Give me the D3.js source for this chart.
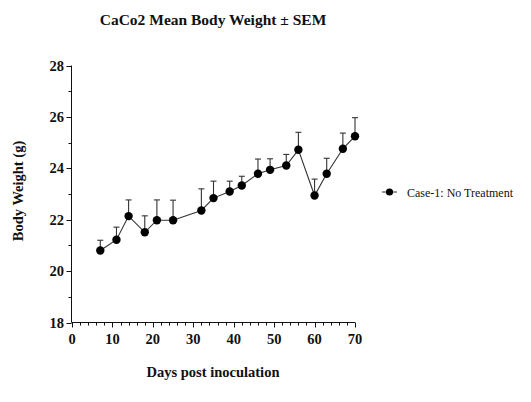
<!DOCTYPE html>
<html><head><meta charset="utf-8">
<script src="https://cdn.jsdelivr.net/npm/d3@7"></script>
<style>body{margin:0;background:#fff}svg{display:block}text{font-family:"Liberation Serif","Times New Roman",serif}</style>
</head><body>
<svg id="c" width="531" height="402"></svg>
<script>
const days = [7, 11, 14, 18, 21, 25, 32, 35, 39, 42, 46, 49, 53, 56, 60, 63, 67, 70];
const meanWeight = [20.80, 21.22, 22.14, 21.51, 21.98, 21.98, 22.36, 22.84, 23.10, 23.33, 23.79, 23.94, 24.11, 24.72, 22.94, 23.79, 24.76, 25.25];
const semWeight = [0.40, 0.49, 0.63, 0.64, 0.79, 0.78, 0.84, 0.66, 0.40, 0.36, 0.57, 0.43, 0.43, 0.68, 0.64, 0.60, 0.61, 0.72];
const xTicks = [0, 10, 20, 30, 40, 50, 60, 70];
const yTicks = [18, 20, 22, 24, 26, 28];
const seriesName = "Case-1: No Treatment";
const title = "CaCo2 Mean Body Weight \u00b1 SEM";
const xLabel = "Days post inoculation";
const yLabel = "Body Weight (g)";

const svg = d3.select("#c");
const x = d3.scaleLinear().domain([0, 70]).range([72, 355]);
const y = d3.scaleLinear().domain([18, 28]).range([322.5, 65.5]);
const ink = "#111";

// title
svg.append("text").attr("x", 213).attr("y", 25).attr("text-anchor", "middle")
  .attr("font-size", 15.5).attr("font-weight", "bold").attr("fill", ink).text(title);

// y axis
const ga = svg.append("g");
ga.append("line").attr("x1", 71.5).attr("x2", 71.5).attr("y1", y(28)).attr("y2", y(18)).attr("stroke", ink);
d3.range(18, 28.01, 1).forEach(v => {
  const major = v % 2 === 0;
  ga.append("line").attr("x1", 71.5 - (major ? 5 : 3)).attr("x2", 71.5)
    .attr("y1", Math.round(y(v)) + 0.5).attr("y2", Math.round(y(v)) + 0.5).attr("stroke", ink);
});
yTicks.forEach(v => {
  ga.append("text").attr("x", 64).attr("y", y(v) + 5).attr("text-anchor", "end")
    .attr("font-size", 14.5).attr("font-weight", "bold").attr("fill", ink).text(v);
});
// x axis
ga.append("line").attr("x1", 71.5).attr("x2", x(70)).attr("y1", 322.5).attr("y2", 322.5).attr("stroke", ink);
d3.range(0, 71, 2).forEach(v => {
  const major = v % 10 === 0;
  ga.append("line").attr("x1", Math.round(x(v)) + 0.5).attr("x2", Math.round(x(v)) + 0.5)
    .attr("y1", 322.5).attr("y2", 322.5 + (major ? 5 : 3)).attr("stroke", ink);
});
xTicks.forEach(v => {
  ga.append("text").attr("x", x(v)).attr("y", 343.5).attr("text-anchor", "middle")
    .attr("font-size", 14.5).attr("font-weight", "bold").attr("fill", ink).text(v);
});
// axis labels
svg.append("text").attr("x", 213).attr("y", 377).attr("text-anchor", "middle")
  .attr("font-size", 14.5).attr("font-weight", "bold").attr("fill", ink).text(xLabel);
svg.append("text").attr("transform", "translate(23,191) rotate(-90)").attr("text-anchor", "middle")
  .attr("font-size", 14.5).attr("font-weight", "bold").attr("fill", ink).text(yLabel);

// data
const data = days.map((d, i) => ({d, m: meanWeight[i], s: semWeight[i]}));
const gd = svg.append("g");
data.forEach(p => {
  const cx = x(p.d);
  gd.append("line").attr("x1", cx).attr("x2", cx).attr("y1", y(p.m)).attr("y2", y(p.m + p.s))
    .attr("stroke", "#333").attr("stroke-width", 1.1);
  gd.append("line").attr("x1", cx - 3).attr("x2", cx + 3).attr("y1", y(p.m + p.s)).attr("y2", y(p.m + p.s))
    .attr("stroke", "#333").attr("stroke-width", 1.1);
});
gd.append("path").datum(data).attr("fill", "none").attr("stroke", "#333").attr("stroke-width", 1.1)
  .attr("d", d3.line().x(p => x(p.d)).y(p => y(p.m)));
gd.selectAll("circle").data(data).join("circle")
  .attr("cx", p => x(p.d)).attr("cy", p => y(p.m)).attr("r", 4.2).attr("fill", "#000");

// legend
const gl = svg.append("g");
gl.append("line").attr("x1", 382).attr("x2", 397).attr("y1", 192).attr("y2", 192).attr("stroke", "#333");
gl.append("circle").attr("cx", 389.5).attr("cy", 192).attr("r", 3.6).attr("fill", "#000");
gl.append("text").attr("x", 407).attr("y", 196.5).attr("font-size", 12).attr("fill", ink).text(seriesName);
</script>
</body></html>
